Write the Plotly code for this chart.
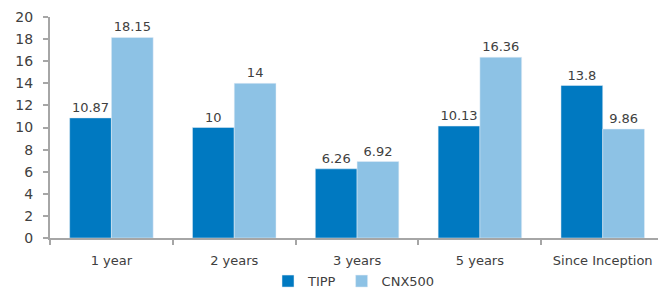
import plotly.graph_objects as go

categories = ["1 year", "2 years", "3 years", "5 years", "Since Inception"]
tipp = [10.87, 10, 6.26, 10.13, 13.8]
cnx500 = [18.15, 14, 6.92, 16.36, 9.86]
tipp_labels = ["10.87", "10", "6.26", "10.13", "13.8"]
cnx_labels = ["18.15", "14", "6.92", "16.36", "9.86"]
y_ticks = list(range(0, 21, 2))

FONT = "DejaVu Sans, sans-serif"
TXT = "#404040"
AX = "#A6A6A6"

fig = go.Figure()
fig.add_trace(go.Bar(x=categories, y=tipp, name="TIPP", marker_color="#0079C1",
                     text=tipp_labels, textposition="outside",
                     textfont=dict(size=13, color=TXT, family=FONT), cliponaxis=False))
fig.add_trace(go.Bar(x=categories, y=cnx500, name="CNX500", marker_color="#8DC2E5",
                     text=cnx_labels, textposition="outside",
                     textfont=dict(size=13, color=TXT, family=FONT), cliponaxis=False))

fig.update_layout(
    width=658, height=290,
    margin=dict(l=50, r=0, t=17, b=52, autoexpand=False),
    paper_bgcolor="white", plot_bgcolor="white",
    barmode="group", bargap=0.32, bargroupgap=0,
    font=dict(family=FONT, size=13, color=TXT),
    showlegend=True,
    legend=dict(orientation="h", x=0.5, xanchor="center", y=-0.195, yanchor="middle",
                font=dict(size=13, color=TXT), itemwidth=30, tracegroupgap=0,
                bgcolor="rgba(0,0,0,0)"),
)
fig.update_xaxes(range=[-0.5, 4.45], showline=True, linecolor=AX, linewidth=2,
                 ticks="outside", tickson="boundaries", ticklen=5, tickcolor=AX,
                 tickwidth=2, ticklabelstandoff=9, showgrid=False, automargin=False,
                 tickfont=dict(size=13, color=TXT))
fig.update_yaxes(range=[0, 20], tickvals=y_ticks, showline=True, linecolor=AX,
                 linewidth=2, ticks="outside", ticklen=5, tickcolor=AX, tickwidth=2,
                 showgrid=False, zeroline=False, ticklabelstandoff=7, automargin=False,
                 tickfont=dict(size=14, color=TXT))

fig.write_html("out.html", config={"displayModeBar": False},
               post_script="document.body.style.margin='0';document.body.style.padding='0';")
